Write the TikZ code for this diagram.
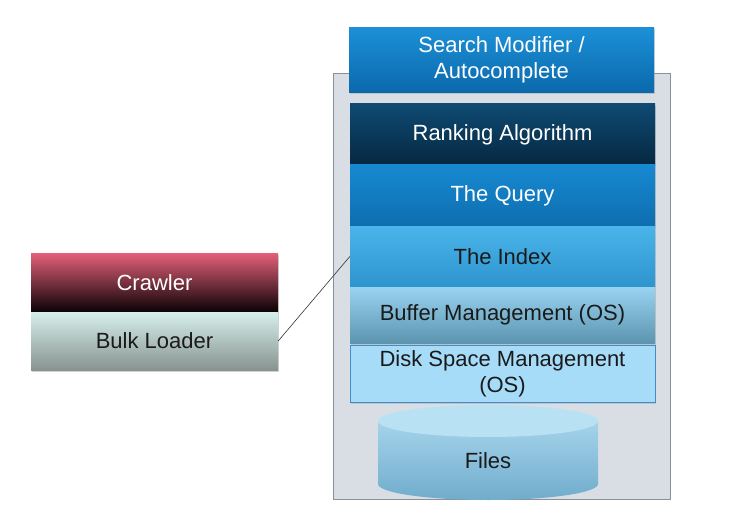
\documentclass[tikz,border=0pt]{standalone}
\usepackage{fontspec}
\setmainfont{Liberation Sans}
\usetikzlibrary{shadows}
\definecolor{contfill}{HTML}{D9DEE4}
\definecolor{contdraw}{HTML}{8A9097}
\definecolor{smtop}{HTML}{1C90D7}
\definecolor{smbot}{HTML}{0B69AC}
\definecolor{rktop}{HTML}{0F4A73}
\definecolor{rkbot}{HTML}{062841}
\definecolor{qutop}{HTML}{1789D1}
\definecolor{qubot}{HTML}{0E6EAF}
\definecolor{ixtop}{HTML}{4AB5EA}
\definecolor{ixbot}{HTML}{2E94CE}
\definecolor{bftop}{HTML}{98D3F1}
\definecolor{bfbot}{HTML}{5D95AF}
\definecolor{dkfill}{HTML}{A6DCF8}
\definecolor{dkdraw}{HTML}{3D8ED0}
\definecolor{fltop}{HTML}{B9E1F4}
\definecolor{flbtop}{HTML}{A6D4EB}
\definecolor{flbbot}{HTML}{70ACCD}
\definecolor{crtop}{HTML}{E46079}
\definecolor{crbot}{HTML}{0A0204}
\definecolor{bltop}{HTML}{D6EFEA}
\definecolor{blbot}{HTML}{879391}
\definecolor{darktext}{HTML}{1A1A1A}
\tikzset{
  layer/.style={rectangle, inner sep=0pt, align=center, font=\fontsize{22}{26}\selectfont,
    drop shadow={fill=black!35, opacity=0.5, shadow xshift=1pt, shadow yshift=-2pt}},
  stackw/.style={minimum width=305pt},
  sidew/.style={minimum width=247pt}
}
\begin{document}
\begin{tikzpicture}[x=1pt,y=-1pt]
\useasboundingbox (0,0) rectangle (749,513);
% container
\node[draw=contdraw, fill=contfill, line width=0.8pt, minimum width=337pt, minimum height=426pt, inner sep=0pt] (cont) at (501.5,286) {};
% stack
\node[layer, stackw, minimum height=65pt, top color=smtop, bottom color=smbot, text=white] (search) at (501.5,60) {Search Modifier /\\Autocomplete};
\node[layer, stackw, minimum height=61pt, top color=rktop, bottom color=rkbot, text=white] (rank) at (502.5,134.5) {Ranking Algorithm};
\node[layer, stackw, minimum height=61pt, top color=qutop, bottom color=qubot, text=white] (query) at (502.5,195.5) {The Query};
\node[layer, stackw, minimum height=61pt, top color=ixtop, bottom color=ixbot, text=darktext] (index) at (502.5,256.5) {The Index};
\node[layer, stackw, minimum height=56pt, top color=bftop, bottom color=bfbot, text=darktext] (buffer) at (502.5,315) {Buffer Management (OS)};
\node[layer, stackw, minimum height=57pt, fill=dkfill, draw=dkdraw, line width=0.8pt, text=darktext] (disk) at (502.5,373.5) {Disk Space Management\\(OS)};
% files cylinder
\shade[top color=flbtop, bottom color=flbbot] (378,421) -- (378,484) arc[start angle=180, end angle=360, x radius=110pt, y radius=16pt] -- (598,421) -- cycle;
\fill[fltop] (488,421) ellipse[x radius=110pt, y radius=16pt];
\node[font=\fontsize{22}{26}\selectfont, text=darktext] (files) at (488,461) {Files};
% side boxes
\node[layer, sidew, minimum height=59pt, top color=crtop, bottom color=crbot, text=white] (crawler) at (154.5,282.5) {Crawler};
\node[layer, sidew, minimum height=58pt, top color=bltop, bottom color=blbot, text=darktext] (bulk) at (154.5,341) {Bulk Loader};
% connector
\draw[line width=0.6pt, black!80] (bulk.east) -- (index.west);
\end{tikzpicture}
\end{document}
